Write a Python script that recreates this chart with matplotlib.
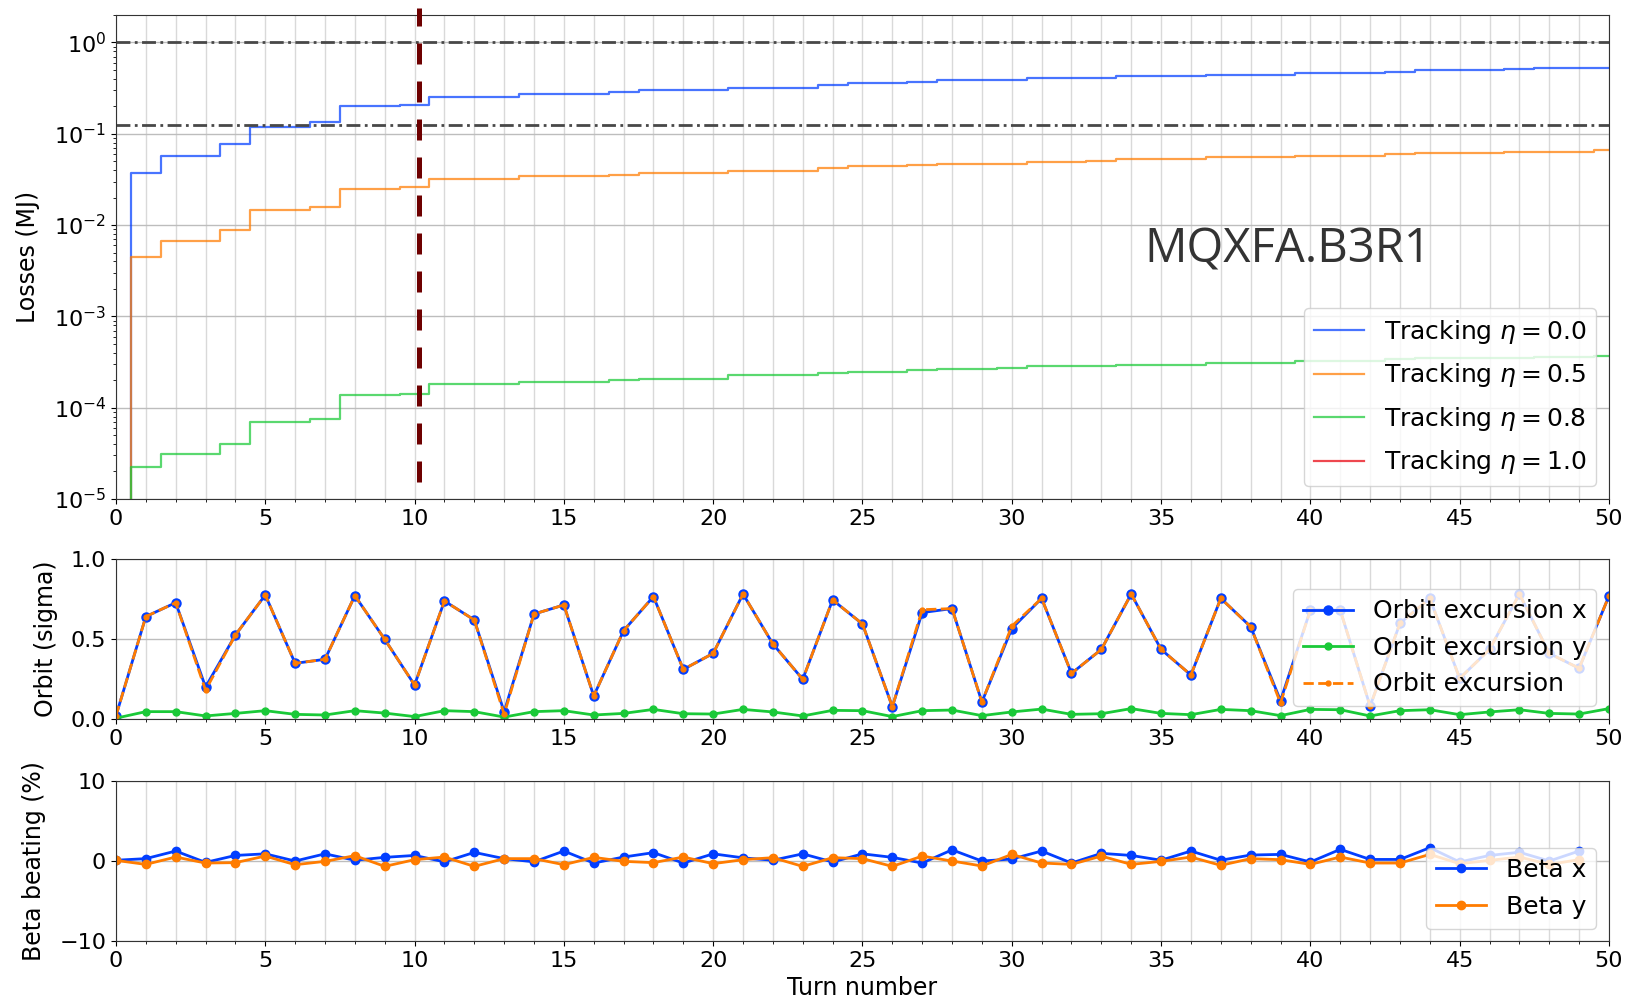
import numpy as np
import matplotlib
matplotlib.use("Agg")
import matplotlib.pyplot as plt
from matplotlib.ticker import MultipleLocator

# turn-by-turn data (losses are cumulative, in MJ)
turns = np.arange(51)
beta_turns = np.arange(50)

loss_eta00 = [0, 0.037, 0.0574, 0.0574, 0.0764, 0.120, 0.120, 0.134, 0.199, 0.199,
              0.208, 0.256, 0.256, 0.256, 0.275, 0.275, 0.275, 0.285, 0.298, 0.298,
              0.298, 0.316, 0.316, 0.316, 0.338, 0.356, 0.356, 0.368, 0.384, 0.384,
              0.393, 0.407, 0.407, 0.407, 0.425, 0.425, 0.425, 0.443, 0.443, 0.443,
              0.461, 0.461, 0.461, 0.478, 0.494, 0.494, 0.494, 0.511, 0.528, 0.528,
              0.528]
loss_eta05 = [0, 0.00447, 0.00668, 0.00668, 0.0089, 0.0146, 0.0146, 0.0156, 0.0248, 0.0248,
              0.026, 0.0319, 0.0319, 0.0319, 0.0345, 0.0345, 0.0345, 0.0358, 0.0371, 0.0371,
              0.0371, 0.0394, 0.0394, 0.0394, 0.0421, 0.0443, 0.0443, 0.0454, 0.0469, 0.0469,
              0.0469, 0.049, 0.049, 0.0506, 0.0528, 0.0528, 0.0528, 0.055, 0.055, 0.055,
              0.0574, 0.0574, 0.0574, 0.0594, 0.0614, 0.0614, 0.0614, 0.0635, 0.0635, 0.0635,
              0.0656]
loss_eta08 = [0, 2.24e-5, 3.1e-5, 3.1e-5, 3.99e-5, 6.95e-5, 6.95e-5, 7.55e-5, 1.38e-4, 1.38e-4,
              1.40e-4, 1.83e-4, 1.83e-4, 1.83e-4, 1.91e-4, 1.91e-4, 1.91e-4, 2.0e-4, 2.07e-4, 2.07e-4,
              2.07e-4, 2.28e-4, 2.28e-4, 2.28e-4, 2.42e-4, 2.47e-4, 2.47e-4, 2.58e-4, 2.67e-4, 2.67e-4,
              2.73e-4, 2.83e-4, 2.83e-4, 2.83e-4, 2.95e-4, 2.95e-4, 2.95e-4, 3.08e-4, 3.08e-4, 3.08e-4,
              3.27e-4, 3.27e-4, 3.27e-4, 3.40e-4, 3.47e-4, 3.47e-4, 3.47e-4, 3.53e-4, 3.60e-4, 3.60e-4,
              3.64e-4]
loss_eta10 = [0] * 51
etas = [0.0, 0.5, 0.8, 1.0]

orbit_x = [0.02, 0.64, 0.727, 0.20, 0.525, 0.775, 0.348, 0.373, 0.771, 0.498,
           0.2125, 0.7375, 0.619, 0.045, 0.656, 0.7125, 0.144, 0.552, 0.765, 0.31,
           0.41, 0.781, 0.469, 0.248, 0.744, 0.594, 0.077, 0.665, 0.69, 0.106,
           0.565, 0.754, 0.285, 0.435, 0.781, 0.435, 0.275, 0.754, 0.577, 0.115,
           0.681, 0.68, 0.08, 0.598, 0.754, 0.254, 0.435, 0.781, 0.41, 0.317,
           0.769]
orbit_y = [0.005, 0.046, 0.046, 0.019, 0.035, 0.052, 0.029, 0.025, 0.052, 0.037,
           0.015, 0.052, 0.046, 0.012, 0.046, 0.052, 0.025, 0.035, 0.06, 0.033,
           0.031, 0.06, 0.044, 0.019, 0.054, 0.052, 0.015, 0.052, 0.056, 0.021,
           0.044, 0.062, 0.029, 0.033, 0.065, 0.035, 0.027, 0.06, 0.052, 0.021,
           0.06, 0.058, 0.019, 0.052, 0.058, 0.027, 0.044, 0.058, 0.035, 0.031,
           0.065]
orbit_total = [0.02, 0.64, 0.727, 0.18, 0.525, 0.775, 0.348, 0.373, 0.771, 0.498,
               0.2125, 0.7375, 0.619, 0.03, 0.656, 0.7125, 0.144, 0.552, 0.765, 0.31,
               0.41, 0.781, 0.469, 0.248, 0.744, 0.594, 0.077, 0.683, 0.69, 0.106,
               0.58, 0.754, 0.285, 0.435, 0.781, 0.435, 0.275, 0.754, 0.577, 0.10,
               0.681, 0.68, 0.08, 0.598, 0.754, 0.254, 0.435, 0.781, 0.41, 0.317,
               0.769]

beta_x = [0.1, 0.3, 1.25, -0.17, 0.7, 0.9, 0.0, 0.9, 0.1, 0.46,
          0.7, -0.1, 1.08, 0.3, -0.1, 1.25, -0.25, 0.5, 1.05, -0.25,
          0.9, 0.4, 0.1, 0.9, -0.12, 0.9, 0.46, -0.25, 1.4, 0.0,
          0.25, 1.25, -0.25, 0.96, 0.7, 0.1, 1.25, 0.1, 0.75, 0.83,
          -0.12, 1.46, 0.2, 0.2, 1.67, -0.12, 0.7, 1.1, 0.0, 1.25]
beta_y = [0.08, -0.42, 0.5, -0.25, -0.2, 0.62, -0.46, -0.04, 0.67, -0.67,
          0.17, 0.5, -0.67, 0.3, 0.3, -0.46, 0.46, -0.04, -0.2, 0.5,
          -0.33, 0.17, 0.42, -0.67, 0.42, 0.3, -0.67, 0.62, 0.0, -0.62,
          0.83, -0.25, -0.42, 0.62, -0.42, -0.04, 0.5, -0.54, 0.3, 0.17,
          -0.42, 0.5, -0.25, -0.25, 0.83, -0.33, 0.08, 0.5, -0.42, 0.17]

thresholds = [1.0, 0.125]
t_event = 10.15
magnet = "MQXFA.B3R1"

BLUE, ORANGE, GREEN, RED = "#023eff", "#ff7c00", "#1ac938", "#e8000b"

plt.rcParams["font.size"] = 16
plt.rcParams["xtick.labelsize"] = 16
plt.rcParams["ytick.labelsize"] = 16
plt.rcParams["axes.labelsize"] = 17
plt.rcParams["legend.fontsize"] = 18

fig = plt.figure(figsize=(16.31, 10.07), dpi=100)
ax1 = fig.add_axes([0.0711, 0.5045, 0.9154, 0.4806])
ax2 = fig.add_axes([0.0711, 0.2860, 0.9154, 0.1589])
ax3 = fig.add_axes([0.0711, 0.0655, 0.9154, 0.1589])


def style_axis(ax):
    ax.set_xlim(0, 50)
    ax.xaxis.set_major_locator(MultipleLocator(5))
    ax.xaxis.set_minor_locator(MultipleLocator(1))
    ax.grid(axis="x", which="both", color="#d9d9d9", lw=1)
    ax.grid(axis="y", which="major", color="#bdbdbd", lw=1)
    ax.set_axisbelow(True)
    for sp in ax.spines.values():
        sp.set_color("#333333")


# losses
for vals, eta, c in zip([loss_eta00, loss_eta05, loss_eta08, loss_eta10], etas,
                        [BLUE, ORANGE, GREEN, RED]):
    ax1.plot(turns, vals, drawstyle="steps-mid", color=c, alpha=0.72, lw=1.6,
             label=r"Tracking $\eta = %.1f$" % eta)
for th in thresholds:
    ax1.axhline(th, color="#484848", ls=(0, (5, 1.6, 1, 1.6)), lw=2.0)
ax1.plot([t_event, t_event], [1.53e-5, 2.4], color="#6e0000", lw=3.6,
         ls=(0, (4.2, 3.4)), clip_on=False, zorder=5)
ax1.set_yscale("log")
ax1.set_ylim(1e-5, 2)
style_axis(ax1)
ax1.set_ylabel("Losses (MJ)")
ax1.yaxis.set_label_coords(-0.051, 0.5)
ax1.legend(loc="lower right", labelspacing=0.62)
ax1.text(0.689, 0.4876, magnet, transform=ax1.transAxes, fontsize=34,
         family="Open Sans", color="#333333", va="baseline")

# orbit excursion
ax2.plot(turns, orbit_x, color=BLUE, lw=2, marker="o", ms=6.5, label="Orbit excursion x")
ax2.plot(turns, orbit_y, color=GREEN, lw=2, marker="o", ms=5, label="Orbit excursion y")
ax2.plot(turns, orbit_total, color=ORANGE, lw=2, ls="--", marker=".", ms=7,
         label="Orbit excursion")
ax2.set_ylim(0, 1)
ax2.yaxis.set_major_locator(MultipleLocator(0.5))
style_axis(ax2)
ax2.set_ylabel("Orbit (sigma)")
ax2.yaxis.set_label_coords(-0.039, 0.5)
ax2.legend(loc="lower right")

# beta beating
ax3.plot(beta_turns, beta_x, color=BLUE, lw=2, marker="o", ms=6, label="Beta x")
ax3.plot(beta_turns, beta_y, color=ORANGE, lw=2, marker="o", ms=6, label="Beta y")
ax3.set_ylim(-10, 10)
ax3.yaxis.set_major_locator(MultipleLocator(10))
style_axis(ax3)
ax3.set_ylabel("Beta beating (%)")
ax3.yaxis.set_label_coords(-0.047, 0.5)
ax3.set_xlabel("Turn number")
ax3.legend(loc="lower right")

fig.savefig("out.png", dpi=100)
